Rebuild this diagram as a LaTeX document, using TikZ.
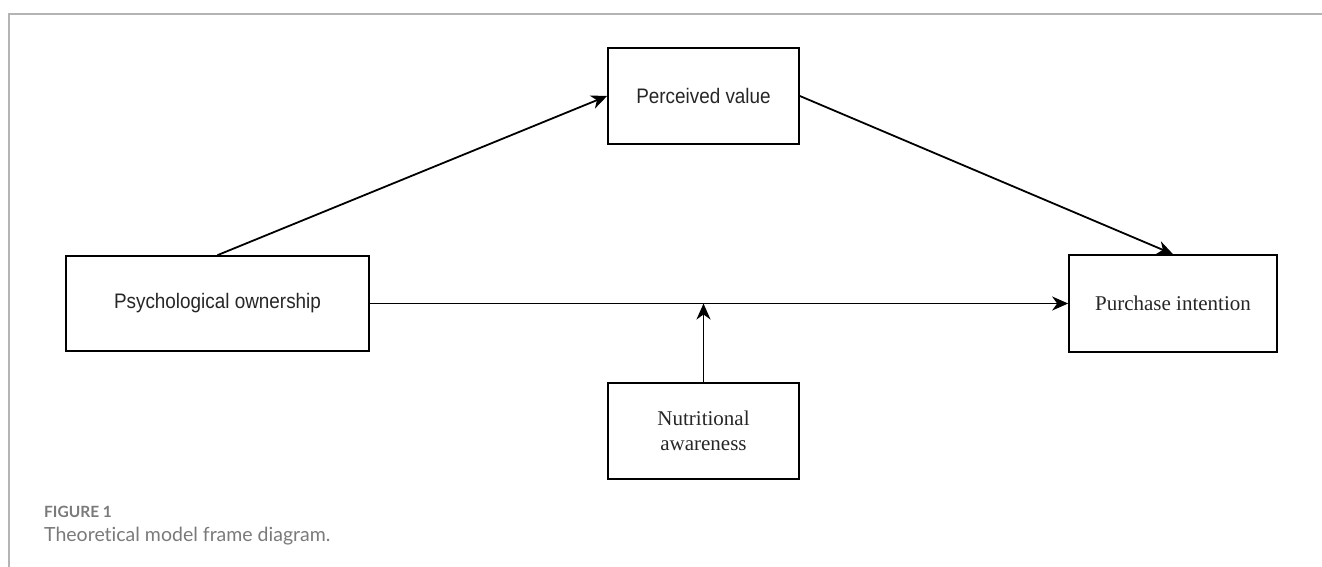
\documentclass[tikz,border=0pt]{standalone}
\usepackage{fontspec}
\setmainfont{Liberation Serif}
\newfontfamily\boxsans[FakeStretch=0.9]{Liberation Sans}
\newfontfamily\capfont[Ligatures=NoCommon]{Lato}
\usepackage{tikz}
\usetikzlibrary{arrows.meta}
\usetikzlibrary{calc}
\definecolor{framegray}{HTML}{B4B4B4}
\definecolor{capgray}{HTML}{7A7A7A}
\tikzstyle{box} = [rectangle, draw=black, line width=1.7pt, inner sep=0pt, text=black!85, align=center]
\tikzstyle{sansbox} = [box, font=\boxsans\fontsize{21}{25}\selectfont]
\tikzstyle{serifbox} = [box, font=\fontsize{21}{25}\selectfont]
\tikzstyle{arrow} = [line width=1.8pt,-{Stealth[length=16pt,width=14pt,inset=5pt]}]

\begin{document}
\begin{tikzpicture}[x=1pt, y=-1pt]
        \useasboundingbox (0,0) rectangle (1322,567);
        \draw[framegray, line width=1.4pt] (9,567) -- (9,14) -- (1322,14);

        \node(value) [sansbox, minimum width=191pt, minimum height=96pt] at (703.5,96) {Perceived value};
        \node(owner) [sansbox, minimum width=303pt, minimum height=95pt] at (217.5,303.5) {Psychological ownership};
        \node(intent) [serifbox, minimum width=208pt, minimum height=97pt] at (1173,303.5) {Purchase intention};
        \node(aware) [serifbox, minimum width=191pt, minimum height=96pt] at (703.5,431) {Nutritional\\awareness};

        \coordinate(meet) at (aware.north |- owner.east);

        \draw[arrow] (owner.north) -- (value.west);
        \draw[arrow] (value.east) -- (intent.north);
        \draw[arrow] (owner.east) -- (intent.west);
        \draw[arrow] (aware.north) -- (meet);

        \node(fig) [anchor=base west, inner sep=0pt, text=capgray, font=\capfont\bfseries\fontsize{15.5}{18}\selectfont] at (44,517) {FIGURE 1};
        \node(caption) [anchor=base west, inner sep=0pt, text=capgray, font=\capfont\fontsize{19.5}{22}\selectfont] at (44,541) {Theoretical model frame diagram.};
    \end{tikzpicture}
\end{document}
